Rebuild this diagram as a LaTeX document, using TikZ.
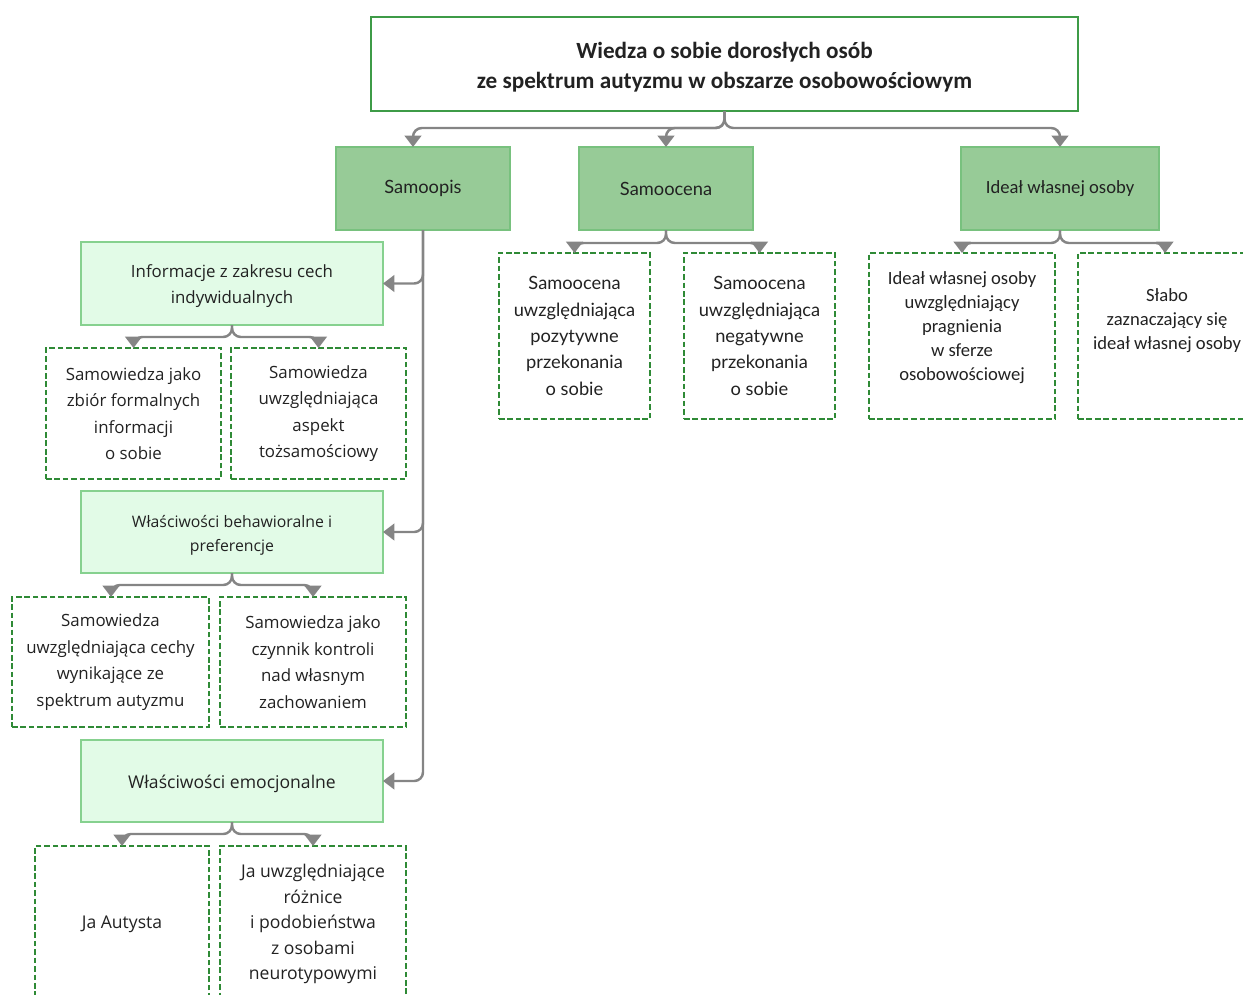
\documentclass[tikz,border=0pt]{standalone}
\usepackage{fontspec}
\setmainfont{Lato}
\newfontfamily\lato{Lato}
\newfontfamily\osans{Open Sans}
\newfontfamily\carl{Carlito}
\usetikzlibrary{arrows.meta}
\definecolor{topb}{HTML}{3E9B47}
\definecolor{midfill}{HTML}{97CB97}
\definecolor{midb}{HTML}{78C17E}
\definecolor{lightfill}{HTML}{E2FBE7}
\definecolor{lightb}{HTML}{86D18F}
\definecolor{dashb}{HTML}{2F8A36}
\definecolor{conn}{HTML}{858585}
\definecolor{txt}{HTML}{222222}
\def\pxu{0.02cm}
\tikzset{
  every node/.style={inner sep=0pt, outer sep=0pt, align=center, text=txt},
  topbox/.style={draw=topb, line width=1.3pt, fill=white},
  midbox/.style={draw=midb, line width=1.2pt, fill=midfill},
  lightbox/.style={draw=lightb, line width=1.2pt, fill=lightfill},
  dbox/.style={draw=dashb, line width=1.1pt, dash pattern=on 3.2pt off 1.6pt, fill=white},
  conline/.style={draw=conn, line width=1.4pt, rounded corners=5pt, -{Triangle[width=9.5pt,length=6.5pt]}},
  flato/.style={font={\lato\fontsize{10.4}{15}\selectfont}},
  fcarl/.style={font={\carl\fontsize{10.6}{13.6}\selectfont}},
  fos/.style={font={\osans\fontsize{9.6}{15.1}\selectfont}},
}
\begin{document}
\begin{tikzpicture}[x=0.02cm, y=-0.02cm]
\useasboundingbox (0,0) rectangle (1243,994);
\clip (0,0) rectangle (1243,994);
% top
\node[topbox, minimum width=707*\pxu, minimum height=94*\pxu] (top) at (724.5,64) {};
\node[font={\carl\bfseries\fontsize{13.2}{17}\selectfont}] (toptext) at (724.5,67)
  {Wiedza o sobie dorosłych osób\\ ze spektrum autyzmu w obszarze osobowościowym};
% level 1
\node[midbox, flato, minimum width=174*\pxu, minimum height=83*\pxu] (sp) at (423,188.5) {Samoopis};
\node[midbox, flato, minimum width=174*\pxu, minimum height=83*\pxu] (sc) at (666,188.5) {Samoocena};
\node[midbox, fcarl, minimum width=198*\pxu, minimum height=83*\pxu] (id) at (1060,188.5) {Ideał własnej osoby};
% samoocena children
\node[dbox, flato, minimum width=151*\pxu, minimum height=166*\pxu] (sc1) at (574.5,336)
  {Samoocena\\ uwzględniająca\\ pozytywne\\ przekonania\\ o sobie};
\node[dbox, flato, minimum width=151*\pxu, minimum height=166*\pxu] (sc2) at (759.5,336)
  {Samoocena\\ uwzględniająca\\ negatywne\\ przekonania\\ o sobie};
% ideal children
\node[dbox, minimum width=186*\pxu, minimum height=166*\pxu] (id1) at (962,336) {};
\node[fcarl, anchor=north] (id1t) at (962,272) {Ideał własnej osoby\\ uwzględniający\\ pragnienia\\ w sferze\\ osobowościowej};
\node[dbox, minimum width=178*\pxu, minimum height=166*\pxu] (id2) at (1167,336) {};
\node[fcarl, anchor=north] (id2t) at (1167,289) {Słabo\\ zaznaczający się\\ ideał własnej osoby};
% left column
\node[lightbox, minimum width=302*\pxu, minimum height=83*\pxu] (info) at (232,283.5) {};
\node[font={\osans\fontsize{9.6}{15}\selectfont}] (infot) at (232,286)
  {Informacje z zakresu cech\\ indywidualnych};
\node[dbox, fos, minimum width=175*\pxu, minimum height=131*\pxu] (a) at (133.5,413.5)
  {Samowiedza jako\\ zbiór formalnych\\ informacji\\ o sobie};
\node[dbox, fos, minimum width=175*\pxu, minimum height=131*\pxu] (b) at (318.5,413.5)
  {Samowiedza\\ uwzględniająca\\ aspekt\\ tożsamościowy};
\node[lightbox, minimum width=302*\pxu, minimum height=82*\pxu] (beh) at (232,532) {};
\node[font={\osans\fontsize{9.0}{13.6}\selectfont}] (beht) at (232,535)
  {Właściwości behawioralne i\\ preferencje};
\node[dbox, fos, minimum width=197*\pxu, minimum height=130*\pxu] (c) at (110.5,662)
  {Samowiedza\\ uwzględniająca cechy\\ wynikające ze\\ spektrum autyzmu};
\node[dbox, fos, minimum width=186*\pxu, minimum height=130*\pxu] (d) at (313,662)
  {Samowiedza jako\\ czynnik kontroli\\ nad własnym\\ zachowaniem};
\node[lightbox, minimum width=302*\pxu, minimum height=82*\pxu] (emo) at (232,781) {};
\node[font={\osans\fontsize{10}{15}\selectfont}] (emot) at (232,783.5) {Właściwości emocjonalne};
\node[dbox, minimum width=174*\pxu, minimum height=156*\pxu, font={\osans\fontsize{10}{15}\selectfont}] (e) at (122,924)
  {Ja Autysta};
\node[dbox, minimum width=186*\pxu, minimum height=156*\pxu, font={\osans\fontsize{10}{14.5}\selectfont}] (f) at (313,924)
  {Ja uwzględniające\\ różnice\\ i podobieństwa\\ z osobami\\ neurotypowymi};
% connectors: top
\draw[conline] (top.south) |- (413,128) -- ([xshift=-10*\pxu]sp.north);
\draw[conline] (top.south) |- (666,128) -- (sc.north);
\draw[conline] (top.south) |- (1060,128) -- (id.north);
% samoocena
\draw[conline] (sc.south) |- (574.5,243) -- (sc1.north);
\draw[conline] (sc.south) |- (759.5,243) -- (sc2.north);
% ideal
\draw[conline] (id.south) |- (962,243) -- (id1.north);
\draw[conline] (id.south) |- (1165,243) -- ([xshift=-2*\pxu]id2.north);
% samoopis spine
\draw[conline] (sp.south) |- (info.east);
\draw[conline] (sp.south) |- (beh.east);
\draw[conline] (sp.south) |- (emo.east);
% info
\draw[conline] (info.south) |- (133.5,337) -- (a.north);
\draw[conline] (info.south) |- (318.5,337) -- (b.north);
% beh
\draw[conline] (beh.south) |- (111,585) -- ([xshift=0.5*\pxu]c.north);
\draw[conline] (beh.south) |- (313,585) -- (d.north);
% emo
\draw[conline] (emo.south) |- (122,834) -- (e.north);
\draw[conline] (emo.south) |- (313,834) -- (f.north);
\end{tikzpicture}
\end{document}
